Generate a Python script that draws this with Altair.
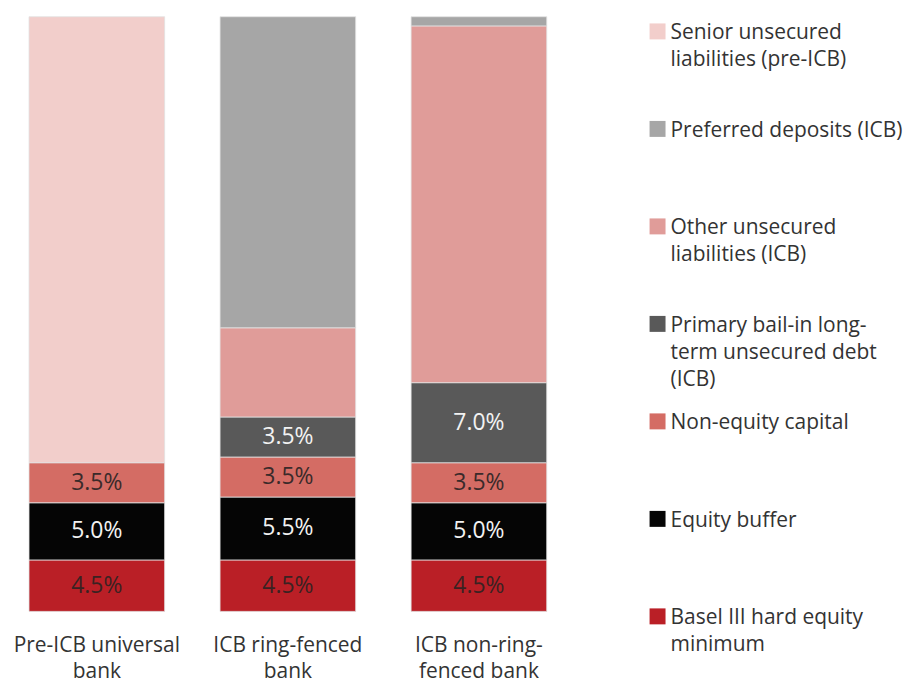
import altair as alt
import pandas as pd

# ---------------- data ----------------
banks = ["Pre-ICB universal bank", "ICB ring-fenced bank", "ICB non-ring-fenced bank"]
bank_lines = [["Pre-ICB universal", "bank"], ["ICB ring-fenced", "bank"], ["ICB non-ring-", "fenced bank"]]

series = [
    "Basel III hard equity minimum",
    "Equity buffer",
    "Non-equity capital",
    "Primary bail-in long-term unsecured debt (ICB)",
    "Other unsecured liabilities (ICB)",
    "Preferred deposits (ICB)",
    "Senior unsecured liabilities (pre-ICB)",
]
legend_text = [
    "Basel III hard equity\nminimum",
    "Equity buffer",
    "Non-equity capital",
    "Primary bail-in long-\nterm unsecured debt\n(ICB)",
    "Other unsecured\nliabilities (ICB)",
    "Preferred deposits (ICB)",
    "Senior unsecured\nliabilities (pre-ICB)",
]
colors = ["#BA1F26", "#050505", "#D46C64", "#595959", "#E09C99", "#A6A6A6", "#F2CECB"]
text_colors = ["#3a2222", "#f2f2f2", "#3a2a2a", "#f2f2f2", "#333333", "#333333", "#333333"]

basel = [4.5, 4.5, 4.5]
equity_buffer = [5.0, 5.5, 5.0]
non_equity = [3.5, 3.5, 3.5]
primary_bailin = [0.0, 3.5, 7.0]
other_unsecured = [0.0, 7.8, 31.2]
preferred = [0.0, 27.2, 0.8]
senior = [39.0, 0.0, 0.0]
labelled = [True, True, True, True, False, False, False]

values = [basel, equity_buffer, non_equity, primary_bailin, other_unsecured, preferred, senior]

rows = []
for si, (s, vals) in enumerate(zip(series, values)):
    for b, v in zip(banks, vals):
        if v > 0:
            rows.append({"bank": b, "series": s, "order": si, "value": v,
                         "label": f"{v:.1f}%" if labelled[si] else ""})
df = pd.DataFrame(rows)

leg_df = pd.DataFrame({
    "series": series[::-1],
    "idx": list(range(len(series))),
    "text": legend_text[::-1],
})

FONT = "Open Sans"
H = 596

# x-axis multi-line label expression
expr = "datum.label"
for b, lines in zip(banks, bank_lines):
    arr = "[" + ",".join(f"'{l}'" for l in lines) + "]"
    expr = f"datum.label == '{b}' ? {arr} : ({expr})"

x_enc = alt.X(
    "bank:N", sort=banks,
    scale=alt.Scale(domain=banks, paddingInner=0.29, paddingOuter=0.11),
    axis=alt.Axis(title=None, labelExpr=expr, labelAngle=0, domain=False, ticks=False,
                  labelFont=FONT, labelFontSize=21, labelColor="#333333",
                  labelPadding=23, labelLineHeight=26, labelBaseline="top"),
)
y_scale = alt.Scale(domain=[0, 52], nice=False, zero=True)

base = alt.Chart(df)
bars = base.mark_bar(stroke="#e2e2e2", strokeWidth=0.8).encode(
    x=x_enc,
    y=alt.Y("value:Q", stack="zero", scale=y_scale, axis=None),
    fill=alt.Fill("series:N", scale=alt.Scale(domain=series, range=colors), legend=None),
    order=alt.Order("order:Q", sort="ascending"),
)

texts = base.transform_stack(
    stack="value", groupby=["bank"], as_=["y0", "y1"],
    sort=[alt.SortField("order", order="ascending")],
).transform_calculate(
    mid="(datum.y0 + datum.y1) / 2"
).transform_filter(
    "datum.label != ''"
).mark_text(font=FONT, fontSize=23, baseline="middle", align="center").encode(
    x=alt.X("bank:N", sort=banks),
    y=alt.Y("mid:Q", scale=y_scale, axis=None),
    text="label:N",
    color=alt.Color("series:N", scale=alt.Scale(domain=series, range=text_colors), legend=None),
)

bar_panel = alt.layer(bars, texts).resolve_scale(color="independent").properties(width=561, height=H)

leg_y = alt.Y("idx:Q", scale=alt.Scale(domain=[-0.1506, 5.949], reverse=True, nice=False, zero=False),
              axis=None)
swatch = alt.Chart(leg_df).mark_point(shape="square", size=256, filled=True, opacity=1, strokeWidth=0).encode(
    x=alt.value(8),
    y=leg_y,
    color=alt.Color("series:N", scale=alt.Scale(domain=series, range=colors), legend=None),
)
leg_text = alt.Chart(leg_df).mark_text(
    align="left", baseline="top", dy=-9, lineBreak="\n", lineHeight=27,
    font=FONT, fontSize=21, color="#333333",
).encode(
    x=alt.value(21),
    y=leg_y,
    text="text:N",
)
legend_panel = alt.layer(swatch, leg_text).properties(width=255, height=H)

chart = alt.hconcat(bar_panel, legend_panel, spacing=82).properties(
    padding={"left": 0, "top": 7, "right": 0, "bottom": 0}
).configure_view(stroke=None)

chart.save("out.html", embed_options={"renderer": "svg", "actions": False})
